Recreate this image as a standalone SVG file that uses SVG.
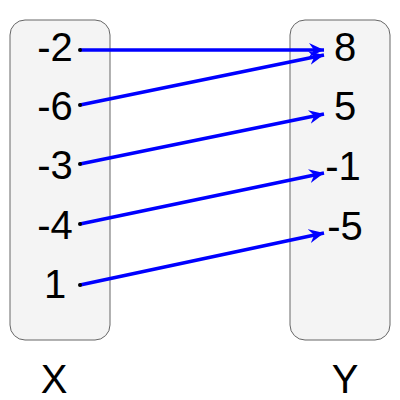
<svg xmlns="http://www.w3.org/2000/svg" width="400" height="400" viewBox="0 0 400 400">
<style>
.box{fill:#f4f4f4;stroke:#666666;stroke-width:1}
.lbl{font-family:"Liberation Sans",Arial,sans-serif;font-size:40px;fill:#000;text-anchor:middle}
.edge{stroke:#0000ff;stroke-width:3.5;fill:none;marker-end:url(#arr)}
.dot{fill:#000}
</style>
<defs>
<marker id="arr" markerUnits="userSpaceOnUse" viewBox="-15 -7 16 14" refX="0" refY="0" markerWidth="16" markerHeight="14" orient="auto">
<path d="M0,0 L-15,-7 L-10,0 L-15,7 Z" fill="#0000ff"/>
</marker>
</defs>
<rect width="400" height="400" fill="#ffffff"/>
<g id="setX">
<rect class="box" x="10" y="20" width="100" height="320" rx="15" ry="15"/>
</g>
<g id="setY">
<rect class="box" x="290" y="20" width="100" height="320" rx="15" ry="15"/>
</g>
<g id="x1"><text class="lbl" x="55" y="61">-2</text></g>
<g id="x2"><text class="lbl" x="55" y="120">-6</text></g>
<g id="x3"><text class="lbl" x="55" y="179">-3</text></g>
<g id="x4"><text class="lbl" x="55" y="239">-4</text></g>
<g id="x5"><text class="lbl" x="55" y="298">1</text></g>
<g id="y1"><text class="lbl" x="345" y="61">8</text></g>
<g id="y2"><text class="lbl" x="345" y="120">5</text></g>
<g id="y3"><text class="lbl" x="343" y="180">-1</text></g>
<g id="y4"><text class="lbl" x="345" y="240">-5</text></g>
<g id="labelX"><text class="lbl" x="54" y="393">X</text></g>
<g id="labelY"><text class="lbl" x="345" y="393">Y</text></g>
<g id="connectors">
<line class="edge" x1="80" y1="50" x2="324" y2="50"/>
<line class="edge" x1="80" y1="105" x2="324" y2="55"/>
<line class="edge" x1="80" y1="164" x2="324" y2="114"/>
<line class="edge" x1="80" y1="224" x2="324" y2="173"/>
<line class="edge" x1="80" y1="285" x2="324" y2="233"/>
<circle class="dot" cx="80" cy="50" r="2"/>
<circle class="dot" cx="80" cy="105" r="2"/>
<circle class="dot" cx="80" cy="164" r="2"/>
<circle class="dot" cx="80" cy="224" r="2"/>
<circle class="dot" cx="80" cy="285" r="2"/>
</g>
</svg>
